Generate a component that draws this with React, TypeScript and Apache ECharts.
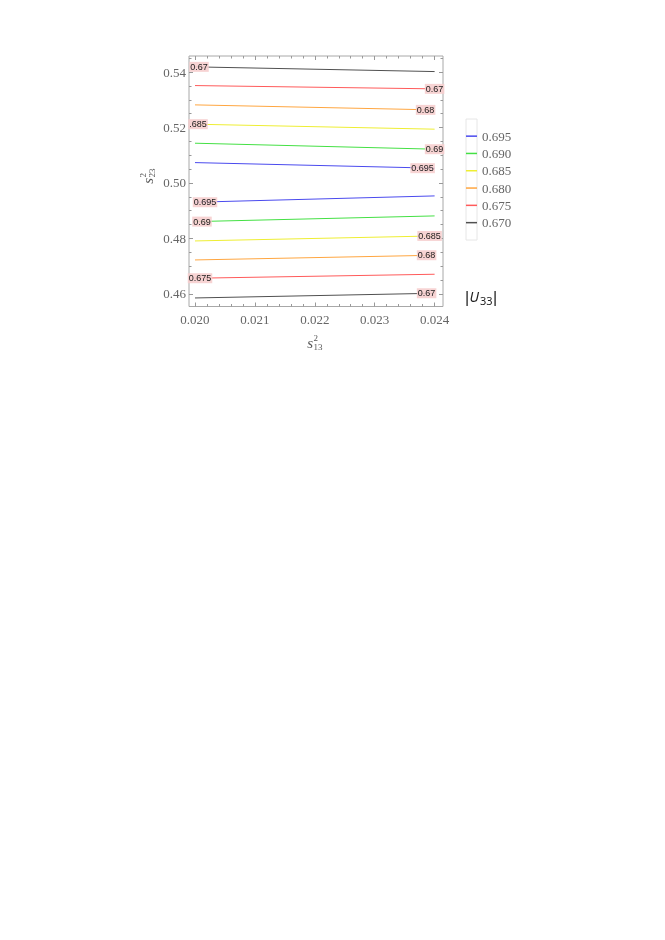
import React, { useEffect, useRef } from 'react';
import * as echarts from 'echarts';

// Contour levels of |U33|
const levels = ['0.670', '0.675', '0.680', '0.685', '0.690', '0.695'];
const levelColors = ['#505050', '#ff5a5a', '#ffa640', '#eeee33', '#44e044', '#4a4aee'];
// s13^2 extent of the contour lines
const s13Ends = [0.02, 0.024];
// s23^2 values of each contour at the left / right ends (upper branch, lower branch)
const upperLeft = [0.54188, 0.53513, 0.52816, 0.52119, 0.51433, 0.50733];
const upperRight = [0.54018, 0.53394, 0.52635, 0.51939, 0.51217, 0.50531];
const lowerLeft = [0.45848, 0.4656, 0.4722, 0.47906, 0.48603, 0.49303];
const lowerRight = [0.46018, 0.46704, 0.4739, 0.48087, 0.48809, 0.49531];
// contour labels
const upperLabels = ['0.67', '0.67', '0.68', '.685', '0.69', '0.695'];
const upperLabelSide = ['left', 'right', 'right', 'left', 'right', 'right'];
const lowerLabels = ['0.67', '0.675', '0.68', '0.685', '0.69', '0.695'];
const lowerLabelSide = ['right', 'left', 'right', 'right', 'left', 'left'];
const upperLabelShift = [4, 0, -9, 3, 0, -12];
const lowerLabelShift = [-8, 5, -8, -5, 7, 10];
// axis ticks
const xTicks = [0.02, 0.021, 0.022, 0.023, 0.024];
const yTicks = [0.46, 0.48, 0.5, 0.52, 0.54];
const xRange = [0.0199, 0.02414];
const yRange = [0.4554, 0.5458];

const xMinor: number[] = [];
for (let i = 0; i < xTicks.length; i++) {
  for (let k = 1; k < 5; k++) {
    const v = +(xTicks[i] + k * 0.0002).toFixed(5);
    if (v < xRange[1]) xMinor.push(v);
  }
}
const yMinor: number[] = [];
for (let i = 0; i < yTicks.length; i++) {
  for (let k = 1; k < 4; k++) {
    const v = +(yTicks[i] + k * 0.005).toFixed(4);
    if (v < yRange[1]) yMinor.push(v);
  }
}

function labelCfg(text: string, dx: number) {
  return {
    show: true,
    position: 'inside',
    formatter: text,
    offset: [dx, 0],
    backgroundColor: 'rgba(246,206,206,0.9)',
    padding: [1, 1, 0, 1],
    color: '#1a1a1a',
    fontSize: 9,
    fontFamily: 'Liberation Sans',
  };
}

function lineData(l: number, r: number, text: string, side: string, dx: number) {
  return [
    side === 'left' ? { value: [s13Ends[0], l], label: labelCfg(text, dx) } : { value: [s13Ends[0], l] },
    side === 'right' ? { value: [s13Ends[1], r], label: labelCfg(text, dx) } : { value: [s13Ends[1], r] },
  ];
}

export default function App() {
  const ref = useRef<HTMLDivElement>(null);
  useEffect(() => {
    const chart = echarts.init(ref.current!, null, { renderer: 'svg' });
    const series: any[] = [];
    levels.forEach((lv, i) => {
      const common = {
        type: 'line',
        name: lv,
        xAxisIndex: 0,
        yAxisIndex: 0,
        showSymbol: true,
        symbol: 'circle',
        symbolSize: 0,
        itemStyle: { color: levelColors[i] },
        lineStyle: { color: levelColors[i], width: 1 },
        label: { show: false },
        emphasis: { disabled: true },
        silent: true,
      };
      series.push({ ...common, data: lineData(upperLeft[i], upperRight[i], upperLabels[i], upperLabelSide[i], upperLabelShift[i]) });
      series.push({ ...common, data: lineData(lowerLeft[i], lowerRight[i], lowerLabels[i], lowerLabelSide[i], lowerLabelShift[i]) });
    });

    const tickColor = '#999';
    const mkX = (pos: string, vals: number[], len: number, labels: boolean) => ({
      type: 'value',
      gridIndex: 0,
      position: pos,
      min: xRange[0],
      max: xRange[1],
      axisLine: { show: false },
      splitLine: { show: false },
      axisTick: { show: true, inside: true, length: len, customValues: vals, lineStyle: { color: tickColor } },
      axisLabel: labels
        ? {
            show: true,
            customValues: xTicks,
            formatter: (v: number) => v.toFixed(3),
            color: '#666',
            fontFamily: 'Liberation Serif',
            fontSize: 13,
            margin: 6,
          }
        : { show: false },
    });
    const mkY = (pos: string, vals: number[], len: number, labels: boolean) => ({
      type: 'value',
      gridIndex: 0,
      position: pos,
      min: yRange[0],
      max: yRange[1],
      axisLine: { show: false },
      splitLine: { show: false },
      axisTick: { show: true, inside: true, length: len, customValues: vals, lineStyle: { color: tickColor } },
      axisLabel: labels
        ? {
            show: true,
            customValues: yTicks,
            formatter: (v: number) => v.toFixed(2),
            color: '#666',
            fontFamily: 'Liberation Serif',
            fontSize: 13,
            margin: 3,
          }
        : { show: false },
    });

    const serif = 'Liberation Serif';
    const option: any = {
      animation: false,
      grid: {
        left: 189,
        top: 56,
        width: 254,
        height: 250.5,
        show: true,
        borderColor: '#a8a8a8',
        borderWidth: 1,
        backgroundColor: 'transparent',
      },
      xAxis: [
        mkX('bottom', xTicks, 4, true),
        mkX('bottom', xMinor, 2.5, false),
        mkX('top', xTicks, 4, false),
        mkX('top', xMinor, 2.5, false),
      ],
      yAxis: [
        mkY('left', yTicks, 4, true),
        mkY('left', yMinor, 2.5, false),
        mkY('right', yTicks, 4, false),
        mkY('right', yMinor, 2.5, false),
      ],
      legend: {
        orient: 'vertical',
        left: 466,
        top: 127.5,
        padding: 0,
        itemGap: 0,
        itemWidth: 11,
        itemHeight: 1.5,
        icon: 'rect',
        selectedMode: false,
        data: levels.slice().reverse(),
        textStyle: { fontFamily: serif, fontSize: 13, color: '#666', lineHeight: 17.3 },
      },
      graphic: [
        { type: 'rect', shape: { x: 466, y: 119, width: 11, height: 121 }, style: { fill: 'none', stroke: '#e6e6e6', lineWidth: 1 }, silent: true },
        // x-axis title s^2_13
        { type: 'text', style: { text: 's', x: 313, y: 343, fontFamily: serif, fontStyle: 'italic', fontSize: 15, fill: '#555', textAlign: 'right', textVerticalAlign: 'middle' } },
        { type: 'text', style: { text: '2', x: 313.5, y: 338, fontFamily: serif, fontSize: 9, fill: '#555', textAlign: 'left', textVerticalAlign: 'middle' } },
        { type: 'text', style: { text: '13', x: 313.5, y: 347, fontFamily: serif, fontSize: 9, fill: '#555', textAlign: 'left', textVerticalAlign: 'middle' } },
        // y-axis title s^2_23
        {
          type: 'group',
          x: 153,
          y: 178,
          rotation: Math.PI / 2,
          children: [
            { type: 'text', style: { text: 's', x: 0, y: -5, fontFamily: serif, fontStyle: 'italic', fontSize: 15, fill: '#555', textAlign: 'right', textVerticalAlign: 'middle' } },
            { type: 'text', style: { text: '2', x: 0.5, y: -10, fontFamily: serif, fontSize: 9, fill: '#555', textAlign: 'left', textVerticalAlign: 'middle' } },
            { type: 'text', style: { text: '23', x: 0.5, y: -1, fontFamily: serif, fontSize: 9, fill: '#555', textAlign: 'left', textVerticalAlign: 'middle' } },
          ],
        },
        // legend title |U33|
        { type: 'text', style: { text: '|', x: 465, y: 297, fontFamily: 'Liberation Sans', fontSize: 16, fill: '#222', textAlign: 'left', textVerticalAlign: 'middle' } },
        { type: 'text', style: { text: 'U', x: 469.5, y: 296.6, fontFamily: 'Noto Sans', fontStyle: 'italic', fontSize: 14, fill: '#222', textAlign: 'left', textVerticalAlign: 'middle' } },
        { type: 'text', style: { text: '33', x: 480, y: 300.7, fontFamily: 'Noto Sans', fontSize: 11, fill: '#222', textAlign: 'left', textVerticalAlign: 'middle' } },
        { type: 'text', style: { text: '|', x: 493, y: 297, fontFamily: 'Liberation Sans', fontSize: 16, fill: '#222', textAlign: 'left', textVerticalAlign: 'middle' } },
      ],
      series,
    };
    chart.setOption(option);
    return () => chart.dispose();
  }, []);
  return <div ref={ref} style={{ position: 'fixed', left: 0, top: 0, width: 665, height: 940 }} />;
}
